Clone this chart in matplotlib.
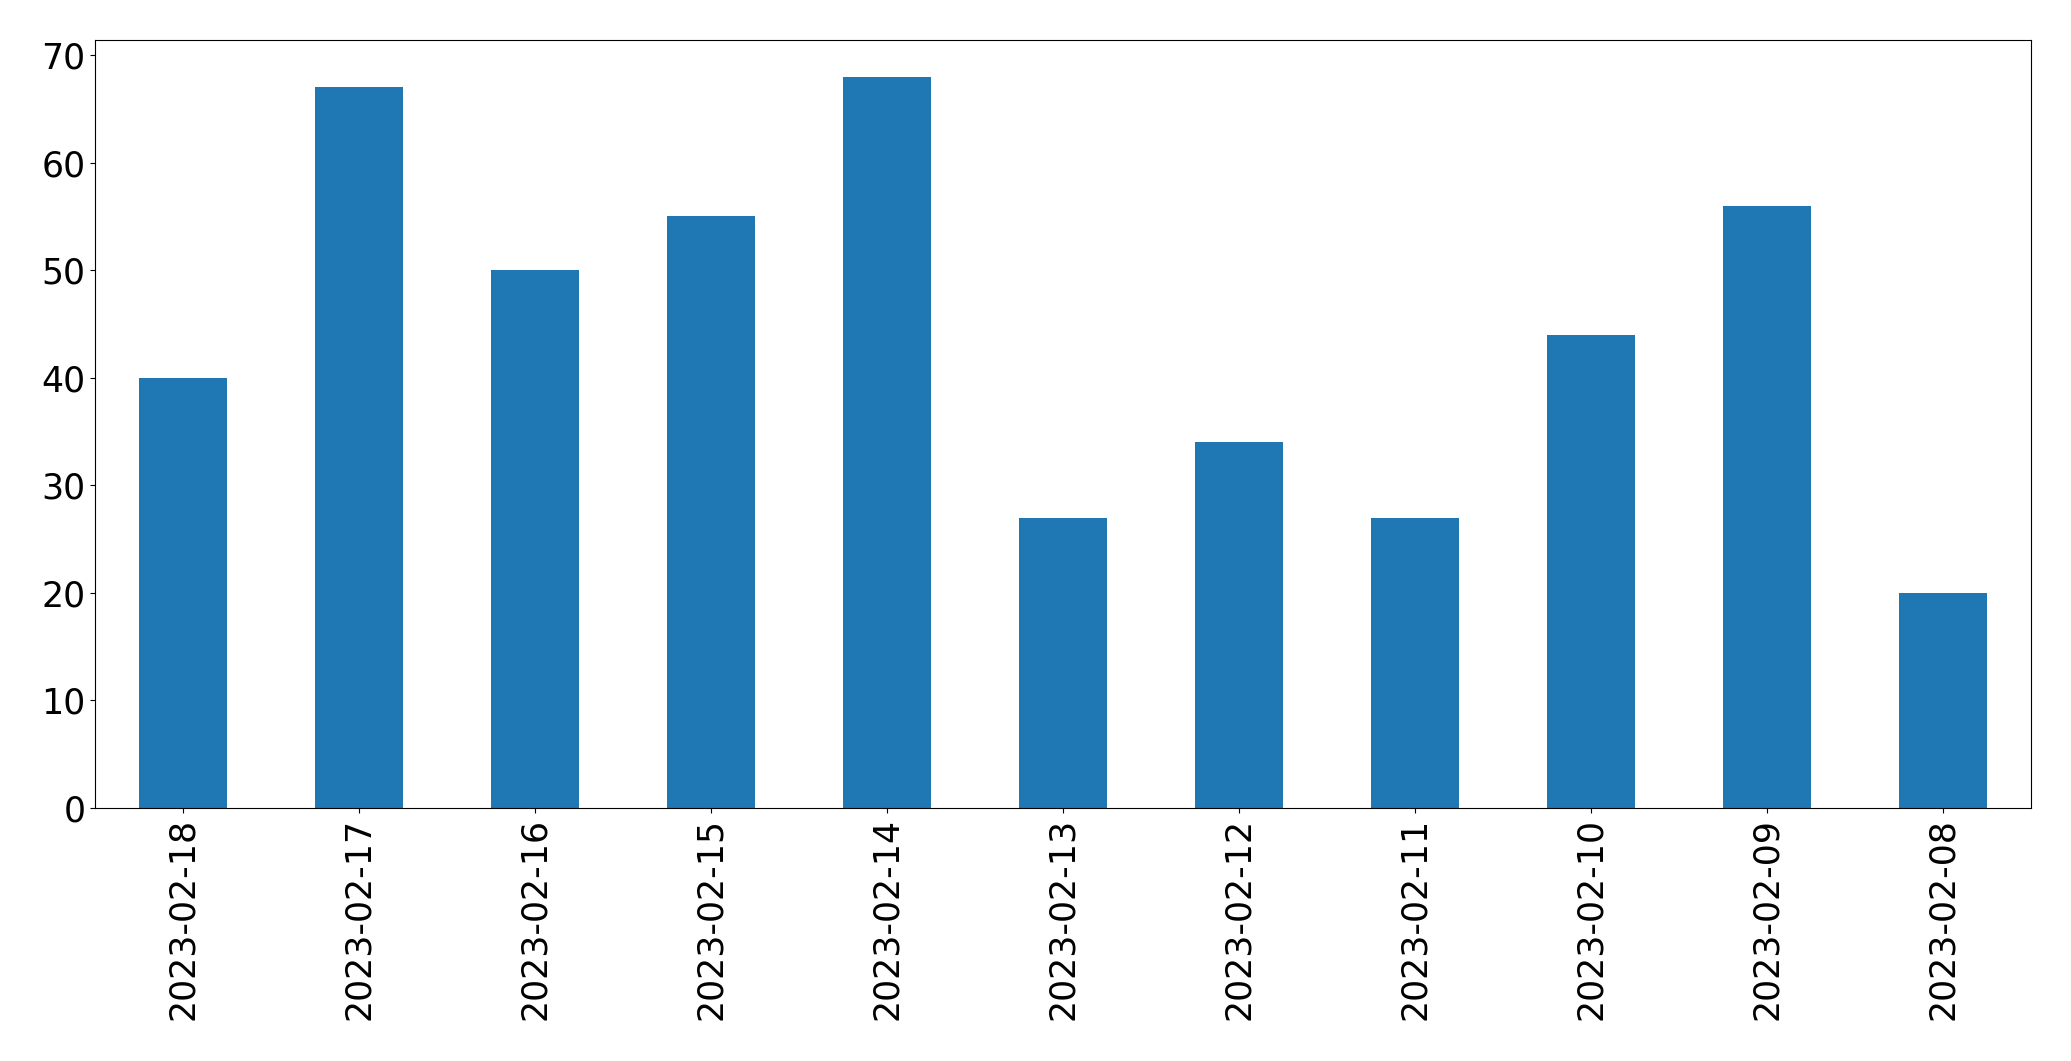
import matplotlib
matplotlib.use("Agg")
import matplotlib.pyplot as plt
import pandas as pd

dates = ['2023-02-18', '2023-02-17', '2023-02-16', '2023-02-15', '2023-02-14',
         '2023-02-13', '2023-02-12', '2023-02-11', '2023-02-10', '2023-02-09',
         '2023-02-08']
counts = [40, 67, 50, 55, 68, 27, 34, 27, 44, 56, 20]

s = pd.Series(counts, index=dates)

fig, ax = plt.subplots(figsize=(20.71, 10.61), dpi=100)
s.plot(kind='bar', ax=ax, color='#1f77b4', fontsize=25)
ax.set_xlabel('')
fig.subplots_adjust(left=0.0459, right=0.9807, top=0.9623, bottom=0.2385)
fig.savefig('out.png', dpi=100)
